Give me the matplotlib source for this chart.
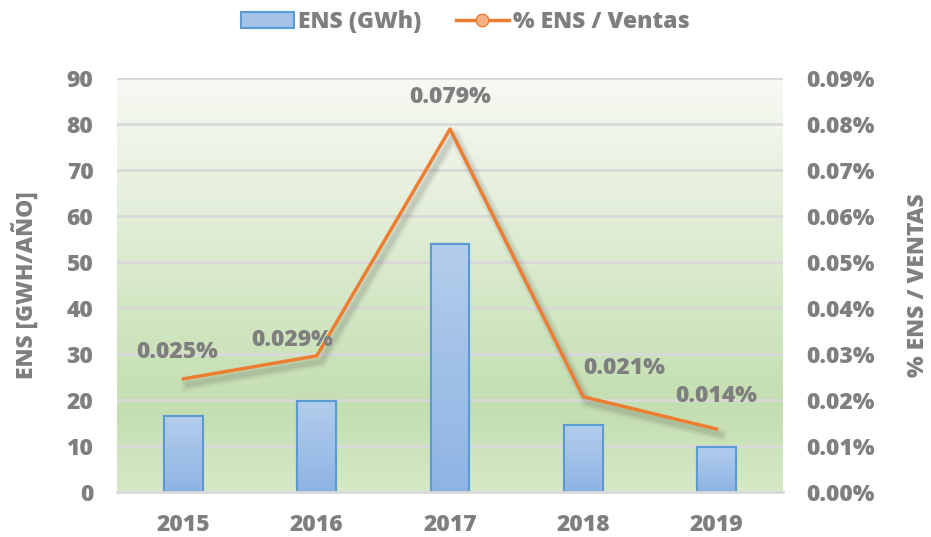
"""ENS vs % ENS / Ventas chart"""
import numpy as np
import matplotlib.pyplot as plt
import matplotlib.patheffects as pe
from matplotlib.colors import LinearSegmentedColormap
from matplotlib.patches import Patch
from matplotlib.lines import Line2D

years = ["2015", "2016", "2017", "2018", "2019"]
ens_gwh = [16.5, 19.8, 53.9, 14.6, 9.8]
ens_pct = [0.0246, 0.0296, 0.0789, 0.0207, 0.0137]
pct_labels = ["0.025%", "0.029%", "0.079%", "0.021%", "0.014%"]
# label offsets in points (dx, dy) from each point
label_offsets = [(-5, 19.5), (-18, 11.5), (0, 23), (29.5, 21), (0, 24)]

GREY = "#7f7f7f"
ORANGE = "#ed7d31"
W = 800
FS = 16.5
plt.rcParams['font.family'] = ['Open Sans', 'DejaVu Sans']
plt.rcParams['font.weight'] = W

fig = plt.figure(figsize=(9.31, 5.37), dpi=100)
ax = fig.add_axes([117/931, 1-492/537, 666/931, 414/537])
ax2 = ax.twinx()

# gradient background
cmap = LinearSegmentedColormap.from_list(
    "bg", [(0, "#d6e9c8"), (0.2, "#c3deb0"), (0.45, "#d3e7c4"),
           (0.75, "#e8f1e0"), (1, "#f7f9f3")])
grad = np.linspace(0, 1, 256).reshape(-1, 1)
ax.imshow(grad, cmap=cmap, aspect="auto", origin="lower",
          extent=[-0.5, 4.5, 0, 90], zorder=0)

x = np.arange(len(years))
ax.set_axisbelow(True)
ax.grid(axis="y", color="#d9d9d9", linewidth=2, zorder=1)
bars = ax.bar(x, ens_gwh, width=0.29, color="#a4c2e6", edgecolor="#5b9bd5",
              linewidth=1.5, zorder=2, label="ENS (GWh)")
# subtle vertical gradient on bars
bcm = LinearSegmentedColormap.from_list("bar", ["#8fb4e3", "#b3cdec"])
for b in bars:
    bx, by = b.get_x(), b.get_y()
    bw, bh = b.get_width(), b.get_height()
    ax.imshow(np.linspace(0, 1, 64).reshape(-1, 1), cmap=bcm, aspect="auto",
              origin="lower", extent=[bx, bx + bw, by, by + bh], zorder=2.1)
    ax.add_patch(plt.Rectangle((bx, by), bw, bh, fill=False,
                               edgecolor="#5b9bd5", linewidth=1.5, zorder=2.2))

ax.set_xlim(-0.5, 4.5)
ax.set_ylim(0, 90)
ax.set_yticks(range(0, 91, 10))
ax.set_xticks(x)
ax.set_xticklabels(years)

shadow = [pe.SimpleLineShadow(offset=(3, -4), shadow_color="#404040",
                              alpha=a, rho=1, linewidth=lw)
          for a, lw in [(0.05, 9), (0.07, 6), (0.09, 3.5)]]
line, = ax2.plot(x, ens_pct, color=ORANGE, linewidth=2.5, zorder=3,
                 label="% ENS / Ventas",
                 path_effects=shadow + [pe.Normal()])
ax2.set_ylim(0, 0.09)
pct_ticks = np.arange(0, 0.0901, 0.01)
ax2.set_yticks(pct_ticks)
ax2.set_yticklabels([f"{v:.2f}%" for v in pct_ticks])

for xi, yi, lab, off in zip(x, ens_pct, pct_labels, label_offsets):
    ax2.annotate(lab, (xi, yi), xytext=off, textcoords="offset points",
                 ha="center", va="center", fontsize=FS, color=GREY,
                 fontweight=W)

for a in (ax, ax2):
    a.tick_params(length=0, labelsize=FS, labelcolor=GREY, pad=17)
    for s in a.spines.values():
        s.set_visible(False)
ax.spines["bottom"].set_visible(True)
ax.spines["bottom"].set_color("#d9d9d9")
ax.spines["bottom"].set_linewidth(2)
ax.tick_params(axis="x", pad=15)

ax.set_ylabel("ENS [GWH/AÑO]", fontsize=FS, color=GREY, fontweight=W, labelpad=20)
ax2.set_ylabel("% ENS / VENTAS", fontsize=FS, color=GREY, fontweight=W, labelpad=22)

# legend
handles = [Patch(facecolor="#a4c2e6", edgecolor="#5b9bd5", linewidth=1.5),
           Line2D([0], [0], color=ORANGE, linewidth=2.5, marker="o",
                  markerfacecolor="#f4b183", markeredgecolor=ORANGE, markersize=9)]
fig.legend(handles, ["ENS (GWh)", "% ENS / Ventas"], loc="center",
           bbox_to_anchor=(0.5, 1 - 22/537), ncol=2, frameon=False,
           prop={"size": FS, "weight": W}, labelcolor=GREY,
           handlelength=2.3, columnspacing=1.5, handletextpad=0.2)

fig.savefig("out.png", dpi=100)
